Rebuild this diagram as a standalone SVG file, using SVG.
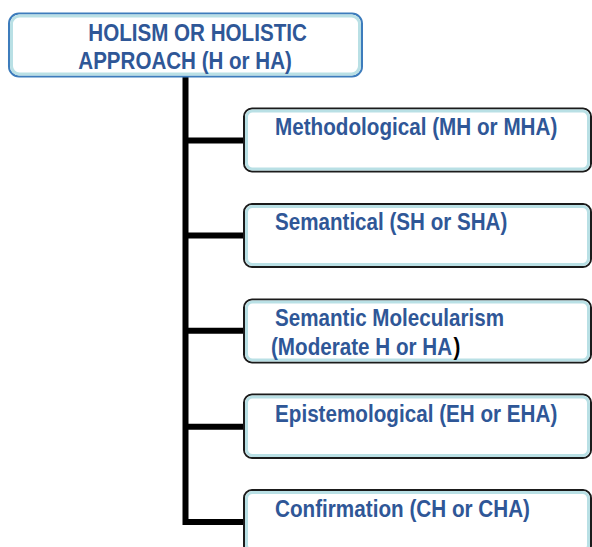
<svg xmlns="http://www.w3.org/2000/svg" width="592" height="547" viewBox="0 0 592 547">
<style>
.t{font-family:"Liberation Sans",Arial,sans-serif;font-weight:bold;font-size:24px;fill:#2f5797;}
.box{fill:#ffffff;stroke:#1b1b1b;stroke-width:2;}
.inner{fill:none;stroke:#b9e0e5;stroke-width:3;}
.conn{fill:none;stroke:#000000;stroke-width:6;stroke-linejoin:miter;stroke-linecap:butt;}
</style>
<rect width="592" height="547" fill="#ffffff"/>
<g id="connectors">
<path class="conn" d="M185.5,77 V522 H244"/>
<path class="conn" d="M185.5,140.5 H244"/>
<path class="conn" d="M185.5,235.5 H244"/>
<path class="conn" d="M185.5,330.7 H244"/>
<path class="conn" d="M185.5,426.7 H244"/>
</g>
<g id="root">
<rect x="9" y="13.5" width="353" height="63" rx="10" fill="#ffffff" stroke="#3d7cbc" stroke-width="2"/>
<rect x="11.5" y="16" width="348" height="58" rx="8" class="inner"/>
<text class="t" transform="translate(88.3,40.5) scale(0.86,1)" textLength="254.1" lengthAdjust="spacingAndGlyphs">HOLISM OR HOLISTIC</text>
<text class="t" transform="translate(78.3,68.5) scale(0.86,1)" textLength="248.3" lengthAdjust="spacingAndGlyphs">APPROACH (H or HA)</text>
</g>
<g id="methodological">
<rect class="box" x="244" y="108.5" width="347" height="63" rx="8"/>
<rect class="inner" x="246.5" y="111" width="342" height="58" rx="6"/>
<text class="t" transform="translate(275,135) scale(0.86,1)" textLength="328.3" lengthAdjust="spacingAndGlyphs">Methodological (MH or MHA)</text>
</g>
<g id="semantical">
<rect class="box" x="244" y="204" width="347" height="63" rx="8"/>
<rect class="inner" x="246.5" y="206.5" width="342" height="58" rx="6"/>
<text class="t" transform="translate(275,230) scale(0.86,1)" textLength="270.1" lengthAdjust="spacingAndGlyphs">Semantical (SH or SHA)</text>
</g>
<g id="molecularism">
<rect class="box" x="244" y="299.5" width="347" height="63" rx="8"/>
<rect class="inner" x="246.5" y="302" width="342" height="58" rx="6"/>
<text class="t" transform="translate(275,325.7) scale(0.86,1)" textLength="266.3" lengthAdjust="spacingAndGlyphs">Semantic Molecularism</text>
<text class="t" transform="translate(271,355) scale(0.86,1)" textLength="210.5" lengthAdjust="spacingAndGlyphs">(Moderate H or HA</text>
<text class="t" style="fill:#000000" transform="translate(453.5,355) scale(0.86,1)">)</text>
</g>
<g id="epistemological">
<rect class="box" x="244" y="394.5" width="347" height="63.5" rx="8"/>
<rect class="inner" x="246.5" y="397" width="342" height="58.5" rx="6"/>
<text class="t" transform="translate(275,421.7) scale(0.86,1)" textLength="328.3" lengthAdjust="spacingAndGlyphs">Epistemological (EH or EHA)</text>
</g>
<g id="confirmation">
<rect class="box" x="244" y="490" width="347" height="63.5" rx="8"/>
<rect class="inner" x="246.5" y="492.5" width="342" height="58.5" rx="6"/>
<text class="t" transform="translate(275,517.3) scale(0.86,1)" textLength="296.5" lengthAdjust="spacingAndGlyphs">Confirmation (CH or CHA)</text>
</g>
</svg>
